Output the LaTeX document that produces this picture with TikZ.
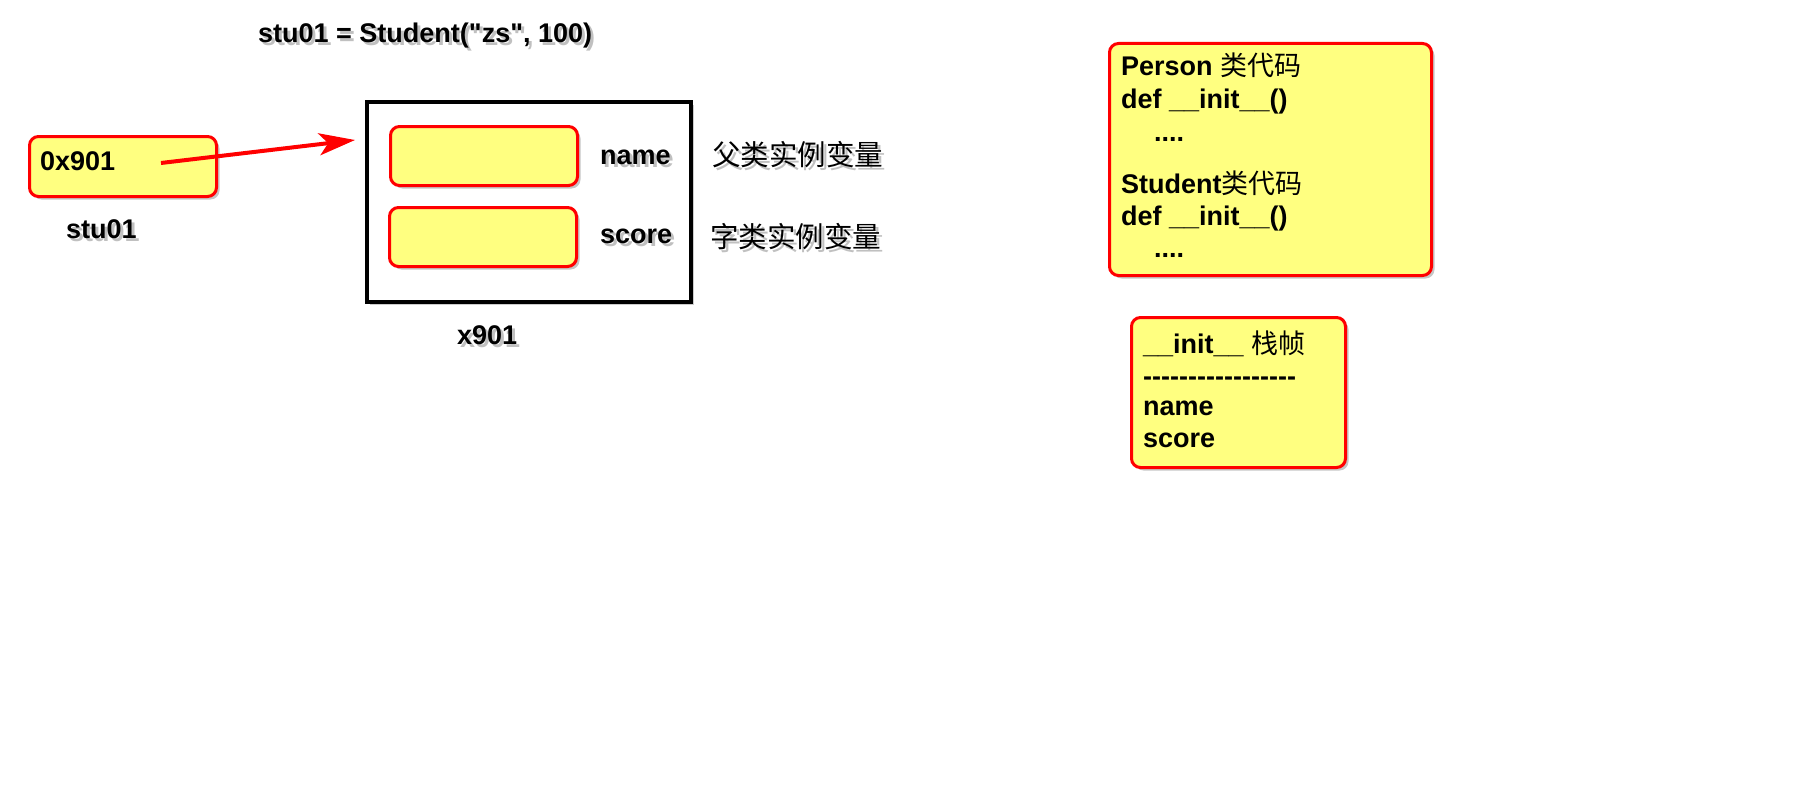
\documentclass[tikz,border=0pt]{standalone}
\usepackage{fontspec}
\setmainfont{Liberation Sans}
\newfontfamily\arialfam{Liberation Sans}
\newfontfamily\cjk{Noto Sans CJK SC}
\usetikzlibrary{shadows,arrows.meta}
\definecolor{boxyellow}{HTML}{FFFF80}
\tikzset{
  ybox/.style={draw=red, fill=boxyellow, line width=3pt, rounded corners=9pt,
    drop shadow={shadow xshift=3pt, shadow yshift=-3pt, opacity=0.45}},
  objbox/.style={draw=black, fill=white, line width=4pt,
    drop shadow={shadow xshift=3pt, shadow yshift=-3pt, opacity=0.4}},
  txt/.style={font=\fontsize{27}{32}\selectfont\arialfam\bfseries, inner sep=0pt, anchor=base west},
  cjktxt/.style={font=\fontsize{28.5}{32}\selectfont\cjk, inner sep=0pt, anchor=base west},
  tshadow/.style={text=black!55, opacity=0.45, xshift=3pt, yshift=-3pt},
  ptr/.style={draw=red, line width=4pt, -{Stealth[length=36pt,width=22pt,inset=9pt]}},
}
% text with drop shadow: style, name, position, text
\newcommand\shtxt[4]{%
  \node[#1,tshadow] (#2s) at (#3) {#4};
  \node[#1] (#2) at (#3) {#4};}
\begin{document}
\begin{tikzpicture}[x=1pt,y=-1pt]
\useasboundingbox (0,0) rectangle (1800,800);

% title
\shtxt{txt}{title}{258,43}{stu01 = Student("zs", 100)}

% reference variable
\node[ybox, minimum width=187pt, minimum height=60pt, anchor=north west] (ref) at (28,135) {};
\node[txt] (reftxt) at (40,170) {0x901};
\shtxt{txt}{stu}{66,238}{stu01}

% object
\node[objbox, minimum width=324pt, minimum height=200pt, anchor=north west] (obj) at (365,100) {};
\node[ybox, minimum width=187pt, minimum height=59pt, anchor=north west] (nm) at (389,125) {};
\node[ybox, minimum width=187pt, minimum height=59pt, anchor=north west] (sc) at (388,206) {};
\shtxt{txt}{nmtxt}{600,164}{name}
\shtxt{txt}{sctxt}{600,243}{score}
\shtxt{cjktxt}{nmcjk}{712,165}{父类实例变量}
\shtxt{cjktxt}{sccjk}{710,247}{字类实例变量}
\shtxt{txt}{objtxt}{457,344}{x901}

% pointer
\coordinate (src) at (161,163);
\coordinate (dst) at (355,140);
\draw[ptr] (src) -- (dst);

% class code box
\node[ybox, minimum width=322pt, minimum height=232pt, anchor=north west] (code) at (1108,42) {};
\node[txt] (c1) at (1121,76) {Person {\mdseries\cjk 类代码}};
\node[txt] (c2) at (1121,108) {def \_\_init\_\_()};
\node[txt] (c3) at (1154,141) {....};
\node[txt] (c4) at (1121,193) {Student{\mdseries\cjk 类代码}};
\node[txt] (c5) at (1121,225) {def \_\_init\_\_()};
\node[txt] (c6) at (1154,257) {....};

% stack frame box
\node[ybox, minimum width=214pt, minimum height=150pt, anchor=north west] (stack) at (1130,316) {};
\node[txt] (s1) at (1143,353) {\_\_init\_\_ {\mdseries\cjk 栈帧}};
\node[txt] (s2) at (1143,385) {-----------------};
\node[txt] (s3) at (1143,415) {name};
\node[txt] (s4) at (1143,447) {score};
\end{tikzpicture}
\end{document}
